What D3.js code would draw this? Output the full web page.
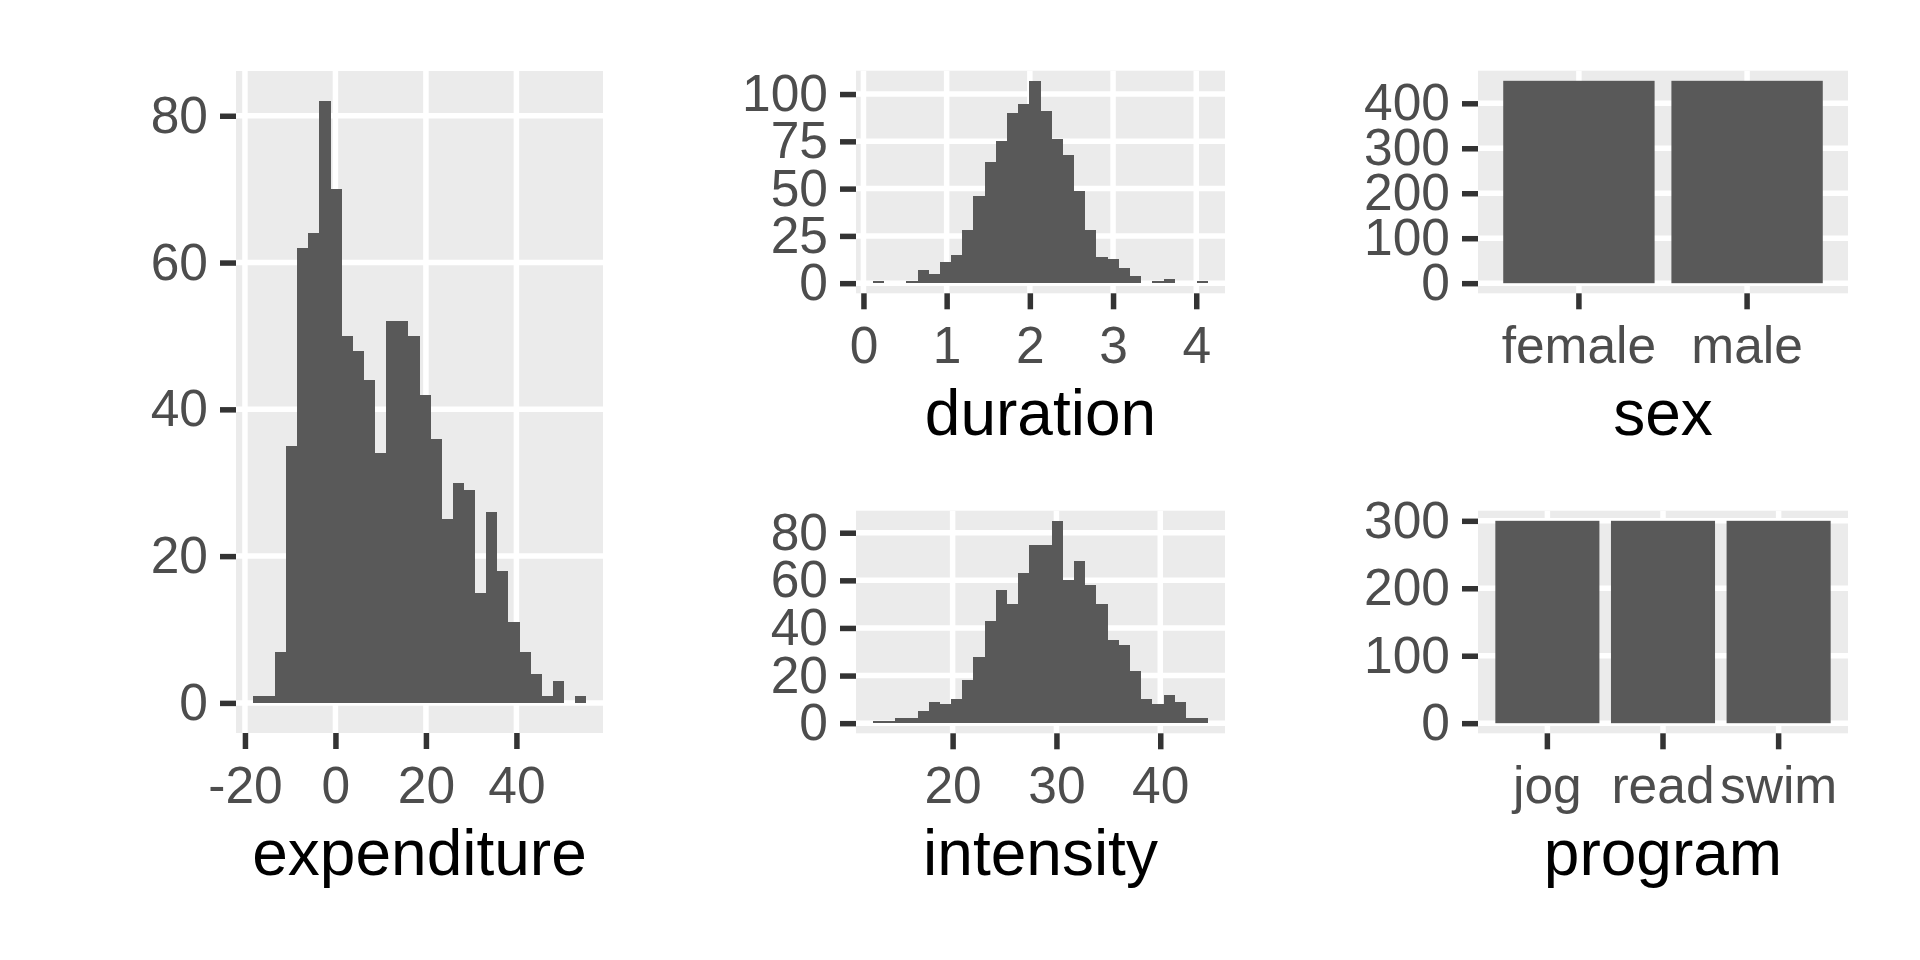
<!DOCTYPE html>
<html>
<head>
<meta charset="utf-8">
<script src="https://cdn.jsdelivr.net/npm/d3@7"></script>
<style>
  body { margin: 0; background: #fff; }
  text { font-family: "Liberation Sans", Arial, sans-serif; }
</style>
</head>
<body>
<svg id="chart" width="1920" height="960"></svg>
<script>
/** data **/
// histogram counts, 30 bins each
var expenditureCounts = [1,1,7,35,62,64,82,70,50,48,44,34,52,52,50,42,36,25,30,29,15,26,18,11,7,4,1,3,0,1];
var expenditureBinStart = -18.29;
var expenditureBinWidth = 2.458;
var expenditureTicksX = [-20,0,20,40];
var expenditureTicksY = [0,20,40,60,80];

var durationCounts = [1,0,0,1,7,5,11,15,28,46,64,75,90,95,107,91,76,68,49,28,14,13,8,4,0,1,2,0,0,1];
var durationBinStart = 0.112;
var durationBinWidth = 0.1344;
var durationTicksX = [0,1,2,3,4];
var durationTicksY = [0,25,50,75,100];

var intensityCounts = [1,1,2,2,5,9,8,10,18,28,43,56,50,63,75,75,85,60,68,58,50,35,33,22,10,8,12,9,2,2];
var intensityBinStart = 12.31;
var intensityBinWidth = 1.077;
var intensityTicksX = [20,30,40];
var intensityTicksY = [0,20,40,60,80];

var sexCats = ["female","male"];
var sexCounts = [450,450];
var sexTicksY = [0,100,200,300,400];

var programCats = ["jog","read","swim"];
var programCounts = [300,300,300];
var programTicksY = [0,100,200,300];

/** look **/
var panelBg = "#EBEBEB";
var barFill = "#595959";
var tickCol = "#333333";
var labelCol = "#4D4D4D";
var lineW = 5.5;
var tickLen = 16;
var tickFont = 51.5;
var titleFont = 64;

var svg = d3.select("#chart");

var fmt = function(d) { return String(d); }; // plain hyphen, like R

function expand(lo, hi) {
	var e = (hi - lo) * 0.05;
	return [lo - e, hi + e];
}

function drawFrame(box, xs, ys, xTicks, yTicks, title, isBand) {
	var g = svg.append("g");
	g.append("rect")
		.attr("x", box.left).attr("y", box.top)
		.attr("width", box.right - box.left)
		.attr("height", box.bottom - box.top)
		.attr("fill", panelBg);

	var xpos = function(d) { return isBand ? xs(d) + xs.bandwidth() / 2 : xs(d); };

	// grid
	g.selectAll("line.gx").data(xTicks).enter().append("line")
		.attr("x1", xpos).attr("x2", xpos)
		.attr("y1", box.top).attr("y2", box.bottom)
		.attr("stroke", "#fff").attr("stroke-width", lineW);
	g.selectAll("line.gy").data(yTicks).enter().append("line")
		.attr("x1", box.left).attr("x2", box.right)
		.attr("y1", ys).attr("y2", ys)
		.attr("stroke", "#fff").attr("stroke-width", lineW);

	var xAxis = (isBand ? d3.axisBottom(xs) : d3.axisBottom(xs).tickValues(xTicks).tickFormat(fmt))
		.tickSize(tickLen).tickPadding(17);
	var yAxis = d3.axisLeft(ys).tickValues(yTicks).tickFormat(fmt)
		.tickSize(tickLen).tickPadding(12);

	var ax = svg.append("g").attr("transform", "translate(0," + box.bottom + ")").call(xAxis);
	var ay = svg.append("g").attr("transform", "translate(" + box.left + ",0)").call(yAxis);
	[ax, ay].forEach(function(a) {
		a.select(".domain").remove();
		a.selectAll(".tick line").attr("stroke", tickCol).attr("stroke-width", lineW);
		a.selectAll(".tick text")
			.attr("fill", labelCol)
			.style("font-size", tickFont + "px")
			.style("font-family", '"Liberation Sans", Arial, sans-serif');
	});

	svg.append("text")
		.attr("x", (box.left + box.right) / 2)
		.attr("y", box.bottom + 141.7)
		.attr("text-anchor", "middle")
		.attr("fill", "#000")
		.style("font-size", titleFont + "px")
		.text(title);
	return g;
}

function histogram(box, counts, start, width, xTicks, yTicks, title) {
	var end = start + counts.length * width;
	var xs = d3.scaleLinear().domain(expand(start, end)).range([box.left, box.right]);
	var ys = d3.scaleLinear().domain(expand(0, d3.max(counts))).range([box.bottom, box.top]);
	var g = drawFrame(box, xs, ys, xTicks, yTicks, title, false);
	// crispEdges so neighbouring bins share an edge with no seam
	g.selectAll("rect.bar").data(counts).enter().append("rect")
		.attr("class", "bar")
		.attr("x", function(d, i) { return xs(start + i * width); })
		.attr("width", function(d, i) { return xs(start + (i + 1) * width) - xs(start + i * width); })
		.attr("y", function(d) { return ys(d); })
		.attr("height", function(d) { return ys(0) - ys(d); })
		.attr("fill", barFill)
		.attr("shape-rendering", "crispEdges");
}

function barchart(box, cats, counts, yTicks, title) {
	var xs = d3.scaleBand().domain(cats).range([box.left, box.right])
		.paddingInner(0.1).paddingOuter(0.15);
	var ys = d3.scaleLinear().domain(expand(0, d3.max(counts))).range([box.bottom, box.top]);
	var g = drawFrame(box, xs, ys, cats, yTicks, title, true);
	g.selectAll("rect.bar").data(counts).enter().append("rect")
		.attr("class", "bar")
		.attr("x", function(d, i) { return xs(cats[i]); })
		.attr("width", xs.bandwidth())
		.attr("y", function(d) { return ys(d); })
		.attr("height", function(d) { return ys(0) - ys(d); })
		.attr("fill", barFill);
}

/** MAIN **/
histogram({left: 236, right: 603, top: 71, bottom: 733},
	expenditureCounts, expenditureBinStart, expenditureBinWidth,
	expenditureTicksX, expenditureTicksY, "expenditure");

histogram({left: 856, right: 1225, top: 70.7, bottom: 293.3},
	durationCounts, durationBinStart, durationBinWidth,
	durationTicksX, durationTicksY, "duration");

histogram({left: 856, right: 1225, top: 510.7, bottom: 733.3},
	intensityCounts, intensityBinStart, intensityBinWidth,
	intensityTicksX, intensityTicksY, "intensity");

barchart({left: 1478, right: 1848, top: 70.7, bottom: 293.3},
	sexCats, sexCounts, sexTicksY, "sex");

barchart({left: 1478, right: 1848, top: 510.7, bottom: 733.3},
	programCats, programCounts, programTicksY, "program");
</script>
</body>
</html>
